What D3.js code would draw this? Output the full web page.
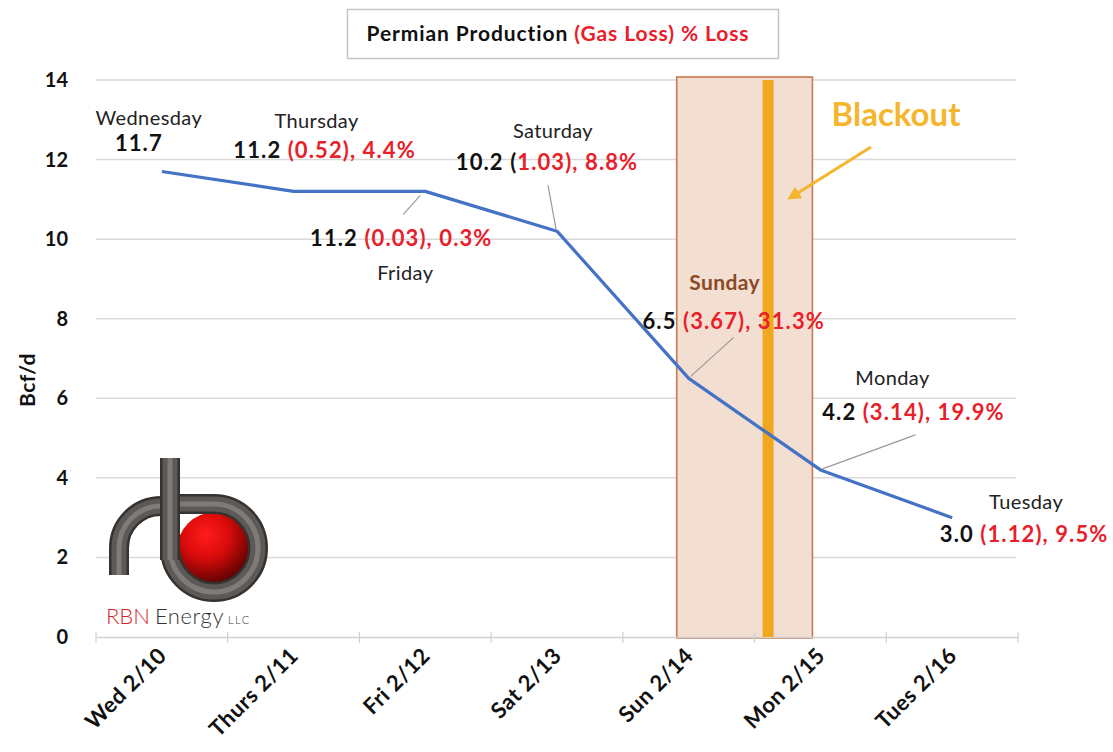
<!DOCTYPE html>
<html>
<head>
<meta charset="utf-8">
<script src="https://cdn.jsdelivr.net/npm/d3@7"></script>
<style>
  html, body { margin: 0; padding: 0; background: #fff; }
  svg { display: block; font-family: Lato, "Open Sans", sans-serif; }
</style>
</head>
<body>
<svg id="chart" width="1113" height="752"></svg>
<script>
// Permian daily gas production through the February 2021 freeze
const categories = ["Wed 2/10", "Thurs 2/11", "Fri 2/12", "Sat 2/13", "Sun 2/14", "Mon 2/15", "Tues 2/16"];
const dayNames   = ["Wednesday", "Thursday", "Friday", "Saturday", "Sunday", "Monday", "Tuesday"];
const production = [11.7, 11.2, 11.2, 10.2, 6.5, 4.2, 3.0];           // Bcf/d
const gasLoss    = [null, "0.52", "0.03", "1.03", "3.67", "3.14", "1.12"]; // Bcf/d lost vs prior day
const pctLoss    = [null, "4.4%", "0.3%", "8.8%", "31.3%", "19.9%", "9.5%"];
const yTicks     = [0, 2, 4, 6, 8, 10, 12, 14];
const blackoutDays = ["Sun 2/14", "Mon 2/15"];

// label placement relative to each point: name offset, value offset, leader line
const labelLayout = [
  { nx: -13, ny: -47, vx: -23, vy: -21, leader: null },
  { nx: 23, ny: -63, vx: 31, vy: -33, leader: null },
  { nx: -20, ny: 89, vx: -24, vy: 55, leader: [-5, 4, -22, 23] },
  { nx: -4, ny: -93, vx: -10, vy: -61, leader: [-1, -2, -9, -46] },
  { nx: 36, ny: -88, vx: 45, vy: -49, leader: [2, -2, 45, -41], nameColor: "#8a4a26" },
  { nx: 72, ny: -85, vx: 93, vy: -50, leader: [2, -1, 95, -35] },
  { nx: 74, ny: -9, vx: 72, vy: 24, leader: null }
];

const svg = d3.select("#chart");
const plotLeft = 96, plotRight = 1018, plotTop = 80, plotBottom = 637;

const x = d3.scaleBand().domain(categories).range([plotLeft, plotRight]).padding(0);
const y = d3.scaleLinear().domain([0, 14]).range([plotBottom, plotTop]);
const cx = c => x(c) + x.bandwidth() / 2;
const defs = svg.append("defs");

// gridlines
svg.append("g")
  .selectAll("line")
  .data(yTicks.filter(d => d > 0))
  .join("line")
  .attr("x1", plotLeft).attr("x2", plotRight - 2)
  .attr("y1", d => y(d)).attr("y2", d => y(d))
  .attr("stroke", "#d9d9d9").attr("stroke-width", 1.5);

// blackout window shading (Sunday-Monday)
const bx0 = cx(blackoutDays[0]) - 12, bx1 = cx(blackoutDays[1]) - 8;
svg.append("rect")
  .attr("x", bx0).attr("y", y(14) - 3)
  .attr("width", bx1 - bx0).attr("height", y(0) - y(14) + 4)
  .attr("fill", "#f3dfd2").attr("stroke", "#c8784e").attr("stroke-width", 1.6);

// x axis with ticks at band boundaries
const xAxis = svg.append("g").attr("transform", `translate(0,${plotBottom})`)
  .call(d3.axisBottom(x).tickSize(0).tickFormat(""));
xAxis.select(".domain").attr("stroke", "#d0d0d0").attr("stroke-width", 1.5);
svg.append("g").selectAll("line")
  .data(categories.map(c => x(c)).concat([plotRight]))
  .join("line")
  .attr("x1", d => d).attr("x2", d => d)
  .attr("y1", plotBottom - 5).attr("y2", plotBottom + 6)
  .attr("stroke", "#d0d0d0").attr("stroke-width", 1.2);

// blackout marker bar
svg.append("rect")
  .attr("x", (cx(blackoutDays[0]) + cx(blackoutDays[1])) / 2 + 8).attr("y", y(14))
  .attr("width", 11).attr("height", y(0) - y(14))
  .attr("fill", "#f0a91e");

// rotated category labels
svg.append("g").selectAll("text")
  .data(categories)
  .join("text")
  .attr("transform", d => `translate(${cx(d) + 6},${plotBottom + 20}) rotate(-45)`)
  .attr("text-anchor", "end")
  .attr("font-size", 22).attr("font-weight", 700).attr("fill", "#111")
  .attr("letter-spacing", 0.5)
  .text(d => d);

// y axis labels
svg.append("g").selectAll("text")
  .data(yTicks)
  .join("text")
  .attr("x", 68).attr("y", d => y(d) + 7)
  .attr("text-anchor", "end")
  .attr("font-size", 20).attr("font-weight", 700).attr("fill", "#111")
  .text(d => d);

svg.append("text")
  .attr("transform", `translate(35,380) rotate(-90)`)
  .attr("text-anchor", "middle")
  .attr("font-size", 21).attr("font-weight", 700).attr("fill", "#111")
  .attr("letter-spacing", 0.5)
  .text("Bcf/d");

// RBN Energy logo
const logo = svg.append("g");
const rg = defs.append("radialGradient").attr("id", "ball")
  .attr("cx", "38%").attr("cy", "30%").attr("r", "75%");
rg.append("stop").attr("offset", "0%").attr("stop-color", "#ff1c1c");
rg.append("stop").attr("offset", "40%").attr("stop-color", "#dc0b0b");
rg.append("stop").attr("offset", "100%").attr("stop-color", "#3e0000");
logo.append("circle").attr("cx", 215).attr("cy", 550).attr("r", 38).attr("fill", "url(#ball)");
const pipePaths = [
  "M119,575 L119,548 A42,42 0 0 1 161,506 L170,506",
  "M170,548 A44,44 0 1 0 214,504 L170,504",
  "M170,458 L170,560"
];
pipePaths.forEach(p => {
  logo.append("path").attr("d", p).attr("fill", "none").attr("stroke", "#353331").attr("stroke-width", 20);
  logo.append("path").attr("d", p).attr("fill", "none").attr("stroke", "#5c5957").attr("stroke-width", 15);
  logo.append("path").attr("d", p).attr("fill", "none").attr("stroke", "#7e7b79").attr("stroke-width", 5);
});
const lt = logo.append("text").attr("x", 106).attr("y", 624).attr("font-size", 22)
  .attr("font-weight", 300);
lt.append("tspan").attr("fill", "#d2262a").text("RBN");
lt.append("tspan").attr("fill", "#333").attr("dx", 5).attr("letter-spacing", 0.6).text("Energy");
lt.append("tspan").attr("fill", "#444").attr("dx", 4).attr("font-size", 11).attr("letter-spacing", 1.5).text("LLC");

// production line
const line = d3.line().x((d, i) => cx(categories[i])).y(d => y(d));
svg.append("path")
  .datum(production)
  .attr("d", line)
  .attr("fill", "none").attr("stroke", "#4472c4").attr("stroke-width", 3.2)
  .attr("stroke-linejoin", "round");

// leader lines and point labels
production.forEach((v, i) => {
  const px = cx(categories[i]), py = y(v), L = labelLayout[i];
  if (L.leader) {
    svg.append("line")
      .attr("x1", px + L.leader[0]).attr("y1", py + L.leader[1])
      .attr("x2", px + L.leader[2]).attr("y2", py + L.leader[3])
      .attr("stroke", "#9a9a9a").attr("stroke-width", 1.2);
  }
  svg.append("text")
    .attr("x", px + L.nx).attr("y", py + L.ny)
    .attr("text-anchor", "middle")
    .attr("font-size", L.nameColor ? 21 : 20)
    .attr("font-weight", L.nameColor ? 700 : 400)
    .attr("letter-spacing", 0.4)
    .attr("fill", L.nameColor || "#222")
    .text(dayNames[i]);
  const t = svg.append("text")
    .attr("x", px + L.vx).attr("y", py + L.vy)
    .attr("text-anchor", "middle")
    .attr("font-size", 22).attr("font-weight", 700)
    .attr("letter-spacing", 1.1);
  t.append("tspan").attr("fill", "#111").text(v.toFixed(1));
  if (gasLoss[i] !== null) {
    if (i === 3) {
      t.append("tspan").attr("fill", "#111").text(" (");
      t.append("tspan").attr("fill", "#e8202a").text(`${gasLoss[i]}), ${pctLoss[i]}`);
    } else {
      t.append("tspan").attr("fill", "#e8202a").text(` (${gasLoss[i]}), ${pctLoss[i]}`);
    }
  }
});

// Blackout callout
svg.append("text")
  .attr("x", 896).attr("y", 126)
  .attr("text-anchor", "middle")
  .attr("font-size", 33).attr("font-weight", 700).attr("fill", "#f5b52c")
  .text("Blackout");
defs.append("marker").attr("id", "arrow").attr("viewBox", "0 0 10 10")
  .attr("refX", 5).attr("refY", 5).attr("markerWidth", 4.5).attr("markerHeight", 4.5)
  .attr("orient", "auto")
  .append("path").attr("d", "M0,0 L10,5 L0,10 Z").attr("fill", "#f5b52c");
svg.append("line")
  .attr("x1", 871).attr("y1", 147).attr("x2", 793).attr("y2", 196)
  .attr("stroke", "#f5b52c").attr("stroke-width", 3)
  .attr("marker-end", "url(#arrow)");

// title box
svg.append("rect")
  .attr("x", 347.5).attr("y", 9.5).attr("width", 431).attr("height", 49)
  .attr("fill", "#fff").attr("stroke", "#c4c4c4").attr("stroke-width", 1.5);
const title = svg.append("text")
  .attr("x", 558).attr("y", 41)
  .attr("text-anchor", "middle")
  .attr("font-size", 21).attr("font-weight", 700).attr("letter-spacing", 0.9);
title.append("tspan").attr("fill", "#111").text("Permian Production ");
title.append("tspan").attr("fill", "#e8202a").text("(Gas Loss) % Loss");
</script>
</body>
</html>
